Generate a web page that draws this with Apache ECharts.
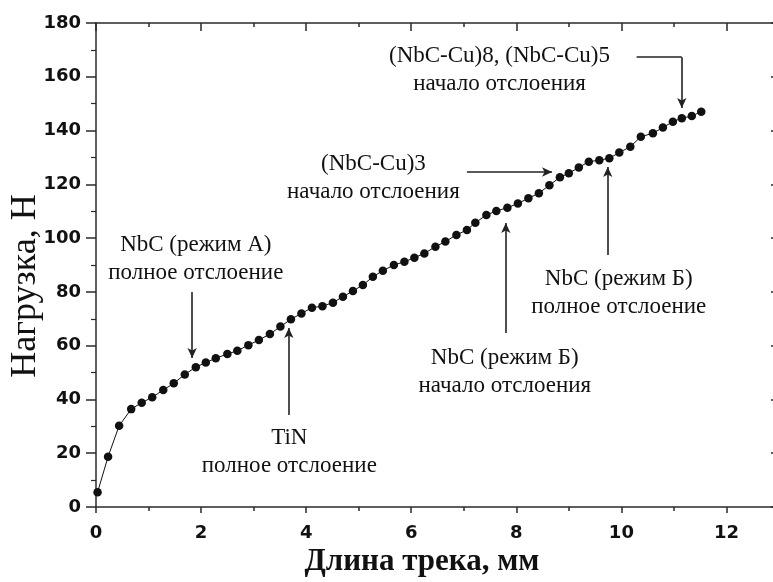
<!DOCTYPE html>
<html><head><meta charset="utf-8">
<script src="https://cdn.jsdelivr.net/npm/echarts@6/dist/echarts.min.js"></script>
<style>html,body{margin:0;padding:0;background:#fff}#c{width:773px;height:582px}</style>
</head><body><div id="c"></div>
<script>
// Data
const trackLength = [0.03, 0.23, 0.44, 0.67, 0.87, 1.07, 1.28, 1.48, 1.69, 1.90, 2.09, 2.28, 2.50, 2.69, 2.90, 3.10, 3.31, 3.51, 3.71, 3.91, 4.11, 4.31, 4.51, 4.70, 4.89, 5.08, 5.27, 5.46, 5.67, 5.87, 6.06, 6.25, 6.46, 6.65, 6.86, 7.06, 7.22, 7.43, 7.62, 7.83, 8.03, 8.23, 8.43, 8.63, 8.83, 9.00, 9.19, 9.38, 9.58, 9.77, 9.96, 10.17, 10.37, 10.60, 10.79, 10.98, 11.15, 11.34, 11.52];
const load = [5.5, 18.7, 30.2, 36.4, 38.8, 40.8, 43.5, 46.0, 49.3, 52.0, 53.7, 55.3, 56.9, 58.1, 60.2, 62.1, 64.3, 67.1, 69.8, 72.0, 74.1, 74.7, 76.0, 78.2, 80.3, 82.6, 85.6, 87.9, 90.0, 91.2, 92.7, 94.3, 96.8, 98.7, 101.2, 103.0, 105.7, 108.6, 110.1, 111.3, 112.9, 114.8, 116.7, 119.7, 122.6, 124.1, 126.3, 128.4, 129.0, 129.7, 131.8, 134.0, 137.7, 139.0, 141.1, 143.3, 144.6, 145.4, 147.0];
const xTicks = [0, 2, 4, 6, 8, 10, 12];
const yTicks = [0, 20, 40, 60, 80, 100, 120, 140, 160, 180];
const xRangeMax = 13;
const xTitle = 'Длина трека, мм';
const yTitle = 'Нагрузка, Н';

// Annotation texts, with their anchors and arrows in data units
const annotationTexts = [
  ['NbC (режим А)', 'полное отслоение'],
  ['TiN', 'полное отслоение'],
  ['(NbC-Cu)3', 'начало отслоения'],
  ['(NbC-Cu)8, (NbC-Cu)5', 'начало отслоения'],
  ['NbC (режим Б)', 'полное отслоение'],
  ['NbC (режим Б)', 'начало отслоения']
];
const annotationAnchors = [[1.90, 92.4], [3.68, 20.5], [5.28, 122.2], [7.68, 162.5], [9.95, 79.6], [7.78, 50.2]];
const annotationArrows = [
  [[1.83, 80.0], [1.83, 55.4]],
  [[3.67, 34.2], [3.67, 66.6]],
  [[7.06, 124.6], [8.68, 124.6]],
  [[10.29, 167.3], [11.15, 167.3], [11.15, 148.4]],
  [[9.74, 93.7], [9.74, 126.4]],
  [[7.80, 64.7], [7.80, 105.6]]
];

const AX = '#2a2a2a';
const tickFont = {fontFamily: 'DejaVu Sans', fontWeight: 'bold', fontSize: 18, color: '#111'};
const xStep = xTicks[1] - xTicks[0];
const yStep = yTicks[1] - yTicks[0];

function xAxisDef(position, interval, tickLen, inside, labels, line) {
  return {
    type: 'value', position: position, min: xTicks[0], max: xRangeMax, interval: interval,
    axisLine: {show: line, onZero: false, lineStyle: {color: AX, width: 1.5}},
    axisTick: {show: true, inside: inside, length: tickLen, lineStyle: {color: AX, width: 1.5}},
    minorTick: {show: false},
    splitLine: {show: false},
    axisLabel: labels ? Object.assign({show: true, margin: 17, showMaxLabel: false,
      formatter: v => (xTicks.indexOf(v) >= 0 ? String(v) : '')}, tickFont) : {show: false}
  };
}

const pts = trackLength.map((x, i) => [x, load[i]]);

const markLineData = [];
annotationArrows.forEach(path => {
  for (let i = 0; i < path.length - 1; i++) {
    const last = i === path.length - 2;
    markLineData.push([
      {coord: path[i], symbol: 'none'},
      {coord: path[i + 1], symbol: last ? 'arrow' : 'none'}
    ]);
  }
});

const markPointData = annotationTexts.map((lines, i) => ({
  coord: annotationAnchors[i],
  label: {formatter: lines.join('\n')}
}));

const chart = echarts.init(document.getElementById('c'), null, {renderer: 'canvas'});
chart.setOption({
  animation: false,
  backgroundColor: '#fff',
  grid: {left: 96, top: 23, width: 683, height: 484, containLabel: false, outerBoundsMode: 'none'},
  xAxis: [
    xAxisDef('bottom', xStep, 6, false, true, true),
    xAxisDef('bottom', xStep / 2, 4, false, false, false),
    xAxisDef('top', xStep, 8, true, false, true),
    xAxisDef('top', xStep / 2, 4, true, false, false)
  ],
  yAxis: [
    {
      type: 'value', position: 'left', min: yTicks[0], max: yTicks[yTicks.length - 1], interval: yStep,
      axisLine: {show: true, onZero: false, lineStyle: {color: AX, width: 1.5}},
      axisTick: {show: true, inside: false, length: 10, lineStyle: {color: AX, width: 1.5}},
      minorTick: {show: true, splitNumber: 2, length: 5, lineStyle: {color: AX, width: 1.2}},
      splitLine: {show: false},
      axisLabel: Object.assign({margin: 15}, tickFont)
    },
    {
      type: 'value', position: 'right', min: yTicks[0], max: yTicks[yTicks.length - 1], interval: yStep,
      axisLine: {show: true, onZero: false, lineStyle: {color: AX, width: 1.5}},
      axisTick: {show: true, inside: true, length: 8, lineStyle: {color: AX, width: 1.5}},
      minorTick: {show: true, splitNumber: 2, length: 4, lineStyle: {color: AX, width: 1.2}},
      splitLine: {show: false},
      axisLabel: {show: false}
    }
  ],
  graphic: [
    {type: 'text', x: 422, y: 562, silent: true,
     style: {text: xTitle, font: 'bold 31px "Liberation Serif"', fill: '#111', align: 'center', verticalAlign: 'middle', textAlign: 'center', textVerticalAlign: 'middle'}},
    {type: 'text', x: 26, y: 286, rotation: Math.PI / 2, silent: true,
     style: {text: yTitle, font: '36px "Liberation Serif"', fill: '#111', align: 'center', verticalAlign: 'middle', textAlign: 'center', textVerticalAlign: 'middle'}}
  ],
  series: [{
    type: 'line',
    xAxisIndex: 0, yAxisIndex: 0,
    data: pts,
    symbol: 'circle', symbolSize: 8.5, showSymbol: true,
    lineStyle: {color: '#111', width: 1},
    itemStyle: {color: '#111'},
    emphasis: {disabled: true},
    z: 3,
    markLine: {
      silent: true, animation: false,
      symbol: ['none', 'arrow'], symbolSize: [7, 10],
      label: {show: false},
      lineStyle: {color: '#222', width: 1.6, type: 'solid'},
      emphasis: {disabled: true},
      data: markLineData
    },
    markPoint: {
      silent: true, animation: false,
      symbol: 'circle', symbolSize: 1,
      itemStyle: {color: 'rgba(0,0,0,0)'},
      label: {show: true, position: 'inside', fontFamily: 'Liberation Serif', fontSize: 23, lineHeight: 28, color: '#111'},
      emphasis: {disabled: true},
      data: markPointData
    }
  }]
});
</script>
</body></html>
